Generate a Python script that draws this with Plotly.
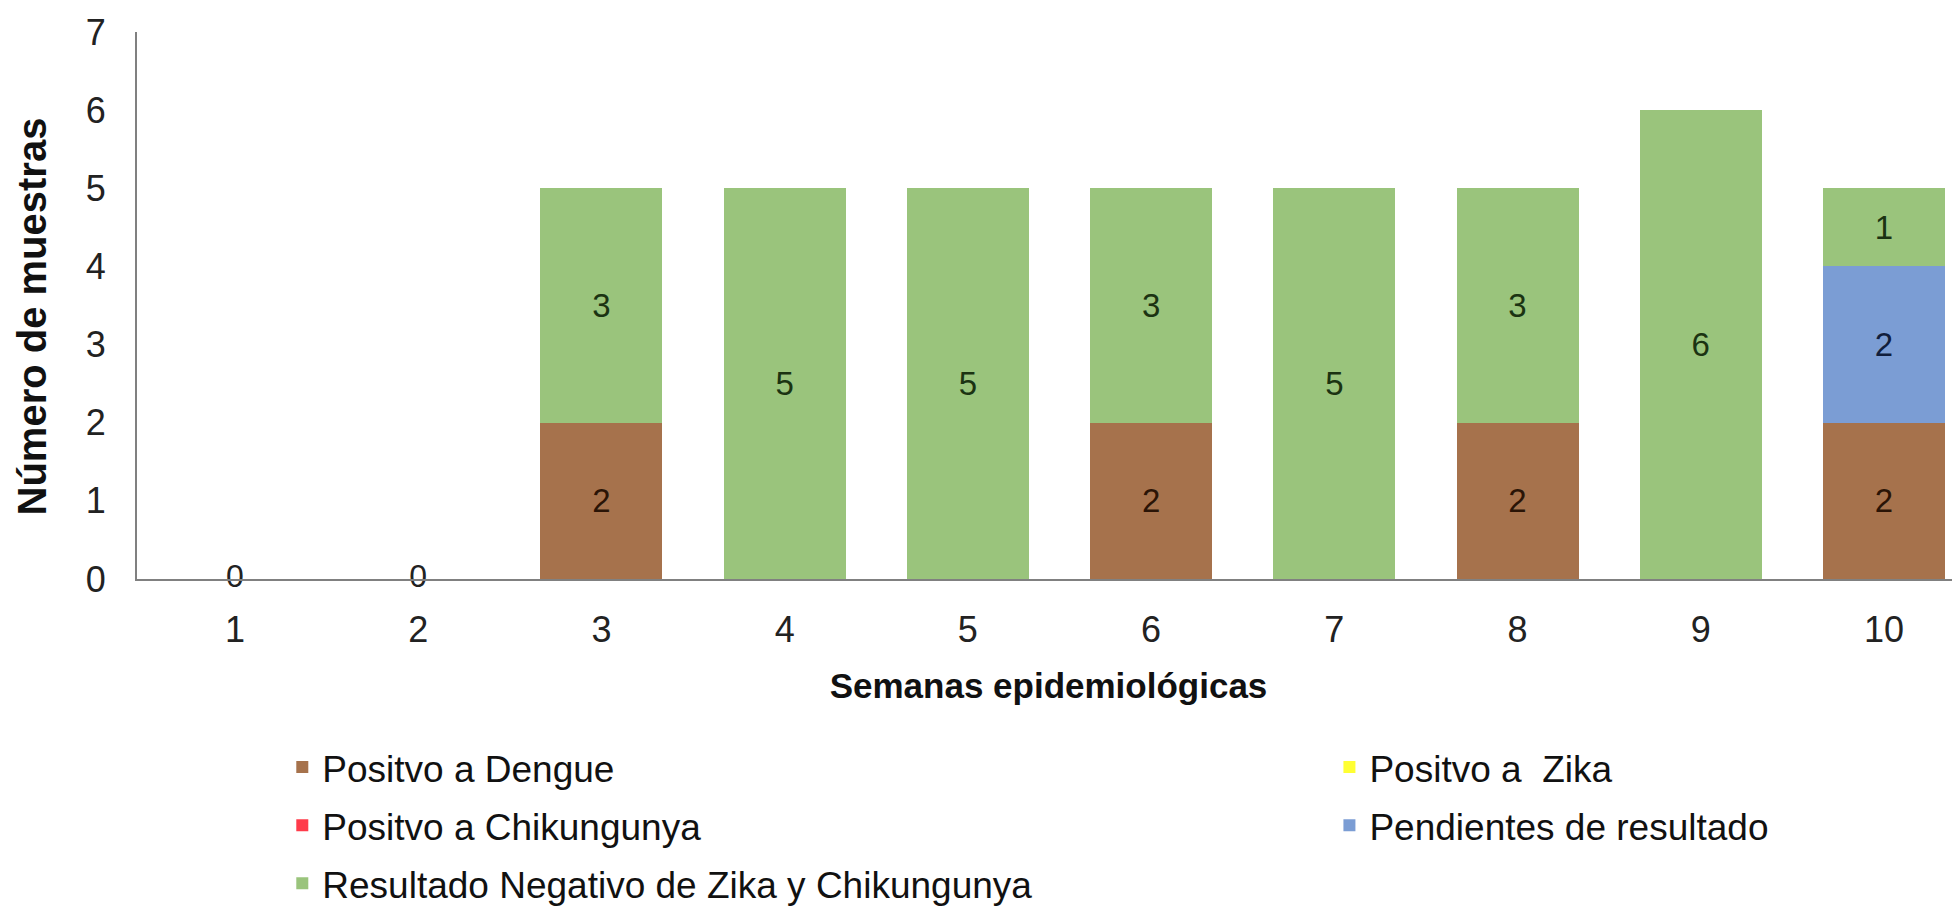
import plotly.graph_objects as go

semanas = [1, 2, 3, 4, 5, 6, 7, 8, 9, 10]
dengue = [0, 0, 2, 0, 0, 2, 0, 2, 0, 2]
zika = [0, 0, 0, 0, 0, 0, 0, 0, 0, 0]
chikungunya = [0, 0, 0, 0, 0, 0, 0, 0, 0, 0]
pendientes = [0, 0, 0, 0, 0, 0, 0, 0, 0, 2]
negativo = [0, 0, 3, 5, 5, 3, 5, 3, 6, 1]

# nombre, valores, color, color de etiqueta, leyenda (columna)
series = [
    ("Positvo a Dengue", dengue, "#A6724C", "#2A1406", "legend"),
    ("Positvo a  Zika", zika, "#FFFF33", "#333300", "legend2"),
    ("Positvo a Chikungunya", chikungunya, "#FF3B4A", "#3A0808", "legend"),
    ("Pendientes de resultado", pendientes, "#7B9DD4", "#111E3C", "legend2"),
    ("Resultado Negativo de Zika y Chikungunya", negativo, "#9AC47C", "#1B3312", "legend"),
]

FONT = "Liberation Sans, Arial, sans-serif"

fig = go.Figure()
for i, (name, vals, color, txtcolor, leg) in enumerate(series):
    fig.add_trace(go.Bar(
        x=semanas, y=vals, name=name, legend=leg, legendgroup=f"g{i}",
        marker=dict(color=color, line=dict(width=0)),
        text=[str(v) if v else "" for v in vals],
        textposition="inside", insidetextanchor="middle",
        textangle=0, constraintext="none",
        textfont=dict(size=33, color=txtcolor, family=FONT),
        width=0.666,
    ))

# etiquetas de cero para semanas sin muestras
totales = [sum(t) for t in zip(dengue, zika, chikungunya, pendientes, negativo)]
zx = [s for s, t in zip(semanas, totales) if t == 0]
fig.add_trace(go.Scatter(
    x=zx, y=[0] * len(zx), mode="text", text=["0"] * len(zx),
    textposition="middle center", showlegend=False, cliponaxis=False,
    textfont=dict(size=32, color="#222222", family=FONT), hoverinfo="skip",
))

leg_style = dict(
    orientation="v", xanchor="left", y=-0.288, yanchor="top",
    font=dict(size=37, family=FONT, color="#111111"),
    traceorder="grouped", tracegroupgap=7, bgcolor="rgba(0,0,0,0)",
)

fig.update_layout(
    barmode="stack",
    width=1952, height=899,
    margin=dict(l=129, r=0, t=24, b=328, autoexpand=False),
    paper_bgcolor="white", plot_bgcolor="white",
    font=dict(family=FONT, color="#222222"),
    legend=dict(x=0.0797, **leg_style),
    legend2=dict(x=0.6541, **leg_style),
    annotations=[dict(
        text="<b>Número de muestras</b>", textangle=-90,
        xref="paper", yref="paper", x=0, y=0.5,
        xanchor="center", yanchor="middle", xshift=-106, yshift=-11,
        showarrow=False, font=dict(size=40, family=FONT, color="#111111"),
    )],
)
fig.update_xaxes(
    range=[0.465, 10.415], tickvals=semanas, ticks="",
    showgrid=False, zeroline=False,
    showline=True, linecolor="#808080", linewidth=2,
    tickfont=dict(size=36, family=FONT, color="#222222"),
    ticklabelstandoff=18,
    title=dict(text="<b>Semanas epidemiológicas</b>",
               font=dict(size=35, family=FONT, color="#111111"), standoff=24),
)
fig.update_yaxes(
    range=[0, 7], dtick=1, ticks="",
    showgrid=False, zeroline=False,
    showline=True, linecolor="#808080", linewidth=2,
    tickfont=dict(size=36, family=FONT, color="#222222"),
    ticklabelstandoff=22,
)

fig.write_html("out.html")
